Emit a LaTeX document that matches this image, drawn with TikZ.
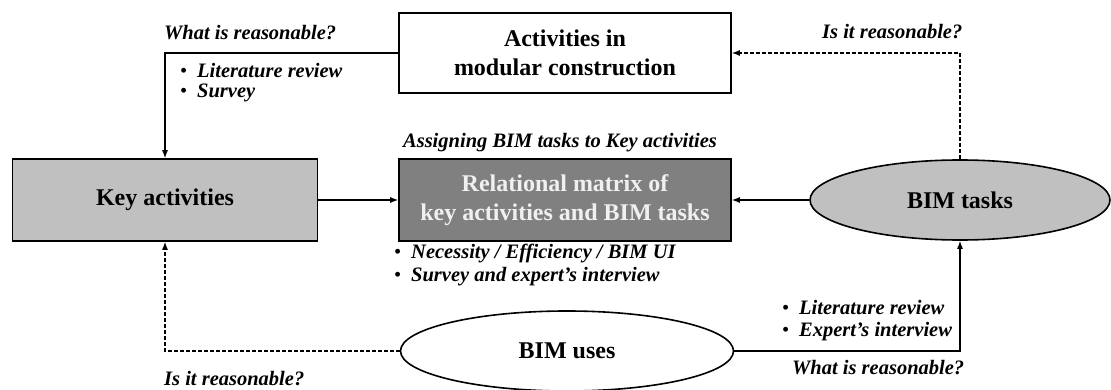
\documentclass[tikz,border=0pt]{standalone}
\usepackage{fontspec}
\setmainfont{Liberation Serif}
\usetikzlibrary{shapes.geometric,arrows.meta}
\definecolor{lightfill}{HTML}{C0C0C0}
\definecolor{darkfill}{HTML}{808080}
\definecolor{paletext}{HTML}{F0F0F0}
\begin{document}
\begin{tikzpicture}[x=1pt,y=-1pt,
  box/.style={draw=black,line width=1.6pt,inner sep=0pt,align=center,
    font=\bfseries\fontsize{24}{29}\selectfont},
  oval/.style={box,ellipse},
  lab/.style={font=\bfseries\itshape\fontsize{20.5}{24}\selectfont,inner sep=0pt,anchor=west},
  bul/.style={lab},
  conn/.style={line width=1.3pt,-{Latex[length=8pt,width=6pt]}},
  dconn/.style={conn,dash pattern=on 4pt off 2pt}]
\useasboundingbox (0,0) rectangle (1111,390);
\newcommand{\bl}{\makebox[17pt][l]{\upshape\mdseries\textbullet}}
% nodes
\node[box,minimum width=332pt,minimum height=80pt] (act) at (565,53) {Activities in\\modular construction};
\node[box,fill=lightfill,minimum width=305pt,minimum height=82pt] (key) at (165,200) {Key activities};
\node[box,fill=darkfill,text=paletext,minimum width=332pt,minimum height=82pt] (rel) at (565,200) {Relational matrix of\\key activities and BIM tasks};
\node[oval,fill=lightfill,minimum width=300pt,minimum height=80pt] (tasks) at (960,200) {BIM tasks};
\node[oval,fill=white,minimum width=333pt,minimum height=80pt] (uses) at (567,351) {BIM uses};
% connectors
\draw[conn] (act.west) -| (key.north);
\draw[conn] (key.east) -- (rel.west);
\draw[conn] (tasks.west) -- (rel.east);
\draw[dconn] (tasks.north) |- (act.east);
\draw[dconn] (uses.west) -| (key.south);
\draw[conn] (uses.east) -| (tasks.south);
% labels
\node[lab] (q1) at (164,33) {What is reasonable?};
\node[bul] (l1a) at (180,71) {\bl Literature review};
\node[bul] (l1b) at (180,93) {\bl Survey};
\node[lab] (q2) at (822,32) {Is it reasonable?};
\node[lab,anchor=center] (assign) at (560,143) {Assigning BIM tasks to Key activities};
\node[bul] (l2a) at (394,253) {\bl Necessity / Efficiency / BIM UI};
\node[bul] (l2b) at (394,277) {\bl Survey and expert’s interview};
\node[lab] (q3) at (164,379) {Is it reasonable?};
\node[bul] (l3a) at (782,308) {\bl Literature review};
\node[bul] (l3b) at (782,332) {\bl Expert’s interview};
\node[lab] (q4) at (792,368) {What is reasonable?};
\end{tikzpicture}
\end{document}
